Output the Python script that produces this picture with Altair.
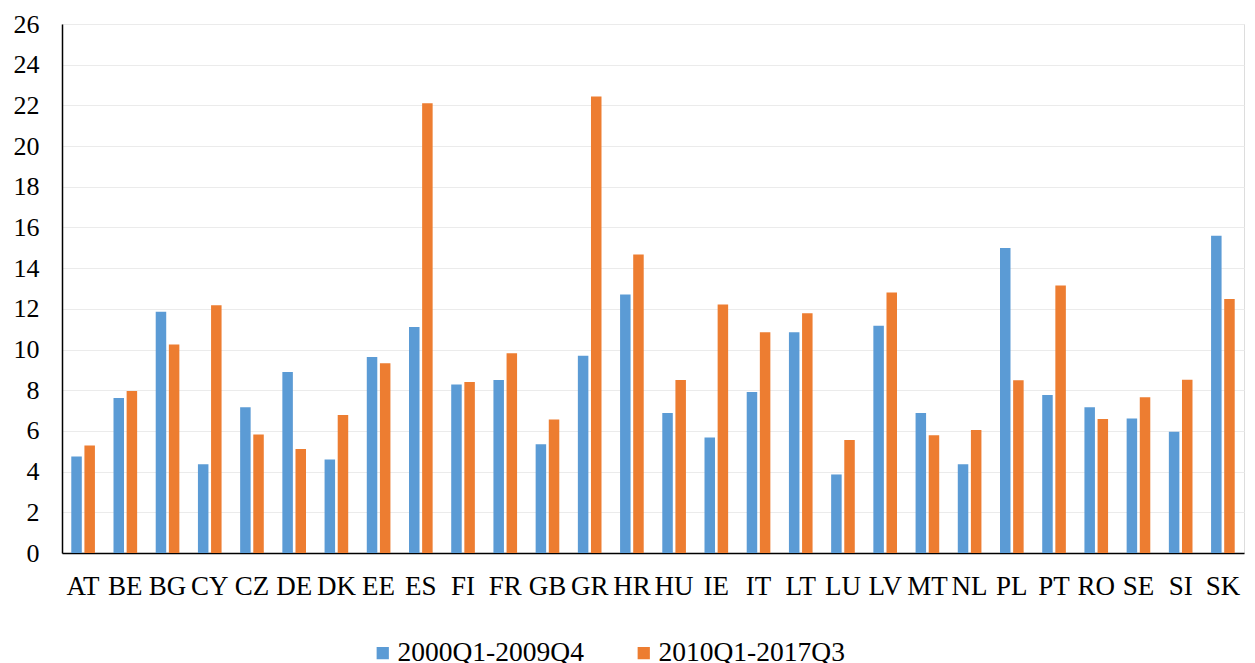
import altair as alt
import pandas as pd

countries = ["AT", "BE", "BG", "CY", "CZ", "DE", "DK", "EE", "ES", "FI", "FR", "GB", "GR", "HR", "HU",
             "IE", "IT", "LT", "LU", "LV", "MT", "NL", "PL", "PT", "RO", "SE", "SI", "SK"]
period1 = [4.74, 7.62, 11.86, 4.36, 7.16, 8.90, 4.59, 9.63, 11.11, 8.28, 8.50, 5.34, 9.70, 12.70, 6.88,
           5.68, 7.91, 10.85, 3.86, 11.17, 6.88, 4.36, 14.99, 7.76, 7.16, 6.61, 5.96, 15.59]
period2 = [5.28, 7.96, 10.25, 12.18, 5.83, 5.11, 6.78, 9.33, 22.11, 8.41, 9.82, 6.56, 22.44, 14.67, 8.50,
           12.21, 10.85, 11.78, 5.56, 12.80, 5.79, 6.05, 8.49, 13.15, 6.58, 7.66, 8.52, 12.48]
series = ["2000Q1-2009Q4", "2010Q1-2017Q3"]
colors = ["#5B9BD5", "#ED7D31"]
y_ticks = list(range(0, 27, 2))

rows = []
for i, c in enumerate(countries):
    rows.append({"country": c, "period": series[0], "value": period1[i]})
    rows.append({"country": c, "period": series[1], "value": period2[i]})
df = pd.DataFrame(rows)

FONT = "Liberation Serif"

chart = alt.Chart(df).mark_bar().encode(
    x=alt.X("country:N", sort=countries, title=None,
            scale=alt.Scale(paddingInner=0.44, paddingOuter=0.22),
            axis=alt.Axis(labelAngle=0, labelFont=FONT, labelFontSize=27, labelColor="#000000",
                          labelPadding=20, ticks=False, domainColor="#000000", domainWidth=1.5,
                          grid=False)),
    xOffset=alt.XOffset("period:N", sort=series, scale=alt.Scale(paddingInner=0.2)),
    y=alt.Y("value:Q", title=None,
            scale=alt.Scale(domain=[0, 26], nice=False),
            axis=alt.Axis(values=y_ticks, labelFont=FONT, labelFontSize=26, labelColor="#000000",
                          labelPadding=23, ticks=False, domainColor="#000000", domainWidth=1.5,
                          gridColor="#ebebeb", gridWidth=1.2)),
    color=alt.Color("period:N", sort=series,
                    scale=alt.Scale(domain=series, range=colors),
                    legend=alt.Legend(title=None, orient="none", direction="horizontal",
                                      legendX=307, legendY=615,
                                      labelFont=FONT, labelFontSize=27.5, labelColor="#000000",
                                      labelLimit=500,
                                      symbolType="square", symbolSize=150, symbolStrokeWidth=0,
                                      labelOffset=1, columnPadding=46)),
).properties(
    width=1182, height=529,
    autosize=alt.AutoSizeParams(type="none"),
    padding={"left": 62, "top": 24, "right": 11, "bottom": 110},
).configure_view(stroke=None).configure(background="#ffffff")

chart.save("out.html", embed_options={"renderer": "svg", "actions": False})
